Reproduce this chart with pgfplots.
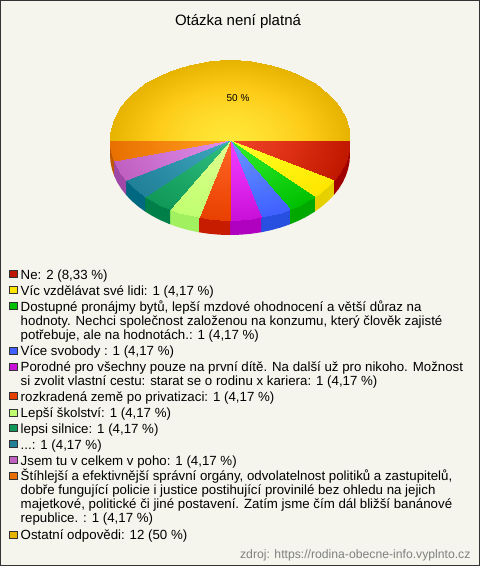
\documentclass[border=0pt]{standalone}
\usepackage{fontspec}
\usepackage{pgfplots}
\pgfplotsset{compat=1.18}
\setmainfont{Liberation Sans}
\definecolor{bg}{HTML}{F5F5EE}
\definecolor{A00000}{HTML}{A00000}\definecolor{E6D000}{HTML}{E6D000}\definecolor{00A800}{HTML}{00A800}\definecolor{2850E0}{HTML}{2850E0}\definecolor{B000C0}{HTML}{B000C0}\definecolor{C81C00}{HTML}{C81C00}\definecolor{A0F060}{HTML}{A0F060}\definecolor{008048}{HTML}{008048}\definecolor{006880}{HTML}{006880}\definecolor{A048A8}{HTML}{A048A8}\definecolor{C05800}{HTML}{C05800}
\definecolor{C01800}{HTML}{C01800}\definecolor{FFE600}{HTML}{FFE600}\definecolor{00C000}{HTML}{00C000}\definecolor{4060FF}{HTML}{4060FF}\definecolor{C810D8}{HTML}{C810D8}\definecolor{E84000}{HTML}{E84000}\definecolor{C0FF70}{HTML}{C0FF70}\definecolor{109858}{HTML}{109858}\definecolor{208098}{HTML}{208098}\definecolor{C060C0}{HTML}{C060C0}\definecolor{E87000}{HTML}{E87000}\definecolor{E6B400}{HTML}{E6B400}
\newcommand\topslice[3]{%
\addplot3[surf,shader=interp,mesh/rows=2,colormap={c}{#1},point meta=\thisrow{r},forget plot]
 table[row sep=\\,x expr={230+120*\thisrow{r}*cos(\thisrow{a})},y expr={140+80*\thisrow{r}*sin(\thisrow{a})},z expr=0] {#3};}
\newcommand\side[2]{%
\addplot[fill=#1,draw=none,forget plot] table[row sep=\\,x expr={230+120*cos(\thisrow{a})},y expr={140+80*sin(\thisrow{a})+\thisrow{d}}] {#2} -- cycle;}
\newcommand\leg[3]{\addplot[only marks,mark=square*,mark size=3.7bp,mark options={fill=#1,draw=black!80,line width=0.7bp},forget plot] coordinates {(#2,#3)};}
\newcommand\txt[2]{\node[anchor=base west,inner sep=0pt,font=\fontsize{13.28bp}{14bp}\selectfont,yshift=-0.7bp] at (axis cs:20.5,#1) {#2};}
\begin{document}
\begin{tikzpicture}
\begin{axis}[scale only axis,width=480bp,height=566bp,xmin=0,xmax=480,ymin=0,ymax=566,y dir=reverse,hide axis,clip=false,view={0}{90},point meta min=0,point meta max=1]
\addplot[fill=bg,draw=black!80,line width=1.5bp,forget plot] coordinates {(0.7,0.7)(479.3,0.7)(479.3,565.3)(0.7,565.3)} -- cycle;
% side walls
\side{A00000}{a d\\0 0\\5 0\\10 0\\15 0\\20 0\\25 0\\30 0\\30 15\\25 15\\20 15\\15 15\\10 15\\5 15\\0 15\\}
\side{E6D000}{a d\\30 0\\35 0\\40 0\\45 0\\45 15\\40 15\\35 15\\30 15\\}
\side{00A800}{a d\\45 0\\50 0\\55 0\\60 0\\60 15\\55 15\\50 15\\45 15\\}
\side{2850E0}{a d\\60 0\\65 0\\70 0\\75 0\\75 15\\70 15\\65 15\\60 15\\}
\side{B000C0}{a d\\75 0\\80 0\\85 0\\90 0\\90 15\\85 15\\80 15\\75 15\\}
\side{C81C00}{a d\\90 0\\95 0\\100 0\\105 0\\105 15\\100 15\\95 15\\90 15\\}
\side{A0F060}{a d\\105 0\\110 0\\115 0\\120 0\\120 15\\115 15\\110 15\\105 15\\}
\side{008048}{a d\\120 0\\125 0\\130 0\\135 0\\135 15\\130 15\\125 15\\120 15\\}
\side{006880}{a d\\135 0\\140 0\\145 0\\150 0\\150 15\\145 15\\140 15\\135 15\\}
\side{A048A8}{a d\\150 0\\155 0\\160 0\\165 0\\165 15\\160 15\\155 15\\150 15\\}
\side{C05800}{a d\\165 0\\170 0\\175 0\\180 0\\180 15\\175 15\\170 15\\165 15\\}
% top
\topslice{rgb255=(240,70,42) rgb255=(222,48,20) rgb255=(192,24,0)}{}{a r\\0 0\\5 0\\10 0\\15 0\\20 0\\25 0\\30 0\\0 1\\5 1\\10 1\\15 1\\20 1\\25 1\\30 1\\}
\topslice{rgb255=(255,255,48) rgb255=(255,245,16) rgb255=(255,230,0)}{}{a r\\30 0\\35 0\\40 0\\45 0\\30 1\\35 1\\40 1\\45 1\\}
\topslice{rgb255=(48,240,48) rgb255=(24,216,24) rgb255=(0,192,0)}{}{a r\\45 0\\50 0\\55 0\\60 0\\45 1\\50 1\\55 1\\60 1\\}
\topslice{rgb255=(110,150,255) rgb255=(84,124,255) rgb255=(64,96,255)}{}{a r\\60 0\\65 0\\70 0\\75 0\\60 1\\65 1\\70 1\\75 1\\}
\topslice{rgb255=(240,64,255) rgb255=(226,40,240) rgb255=(200,16,216)}{}{a r\\75 0\\80 0\\85 0\\90 0\\75 1\\80 1\\85 1\\90 1\\}
\topslice{rgb255=(255,104,40) rgb255=(245,84,20) rgb255=(232,64,0)}{}{a r\\90 0\\95 0\\100 0\\105 0\\90 1\\95 1\\100 1\\105 1\\}
\topslice{rgb255=(224,255,144) rgb255=(208,255,128) rgb255=(192,255,112)}{}{a r\\105 0\\110 0\\115 0\\120 0\\105 1\\110 1\\115 1\\120 1\\}
\topslice{rgb255=(48,192,128) rgb255=(32,172,108) rgb255=(16,152,88)}{}{a r\\120 0\\125 0\\130 0\\135 0\\120 1\\125 1\\130 1\\135 1\\}
\topslice{rgb255=(64,168,192) rgb255=(48,148,172) rgb255=(32,128,152)}{}{a r\\135 0\\140 0\\145 0\\150 0\\135 1\\140 1\\145 1\\150 1\\}
\topslice{rgb255=(224,144,232) rgb255=(208,120,216) rgb255=(192,96,192)}{}{a r\\150 0\\155 0\\160 0\\165 0\\150 1\\155 1\\160 1\\165 1\\}
\topslice{rgb255=(255,160,32) rgb255=(245,136,16) rgb255=(232,112,0)}{}{a r\\165 0\\170 0\\175 0\\180 0\\165 1\\170 1\\175 1\\180 1\\}
\topslice{rgb255=(255,232,56) rgb255=(255,220,44) rgb255=(252,202,22) rgb255=(230,180,0)}{}{a r\\180 0\\185 0\\190 0\\195 0\\200 0\\205 0\\210 0\\215 0\\220 0\\225 0\\230 0\\235 0\\240 0\\245 0\\250 0\\255 0\\260 0\\265 0\\270 0\\275 0\\280 0\\285 0\\290 0\\295 0\\300 0\\305 0\\310 0\\315 0\\320 0\\325 0\\330 0\\335 0\\340 0\\345 0\\350 0\\355 0\\360 0\\180 1\\185 1\\190 1\\195 1\\200 1\\205 1\\210 1\\215 1\\220 1\\225 1\\230 1\\235 1\\240 1\\245 1\\250 1\\255 1\\260 1\\265 1\\270 1\\275 1\\280 1\\285 1\\290 1\\295 1\\300 1\\305 1\\310 1\\315 1\\320 1\\325 1\\330 1\\335 1\\340 1\\345 1\\350 1\\355 1\\360 1\\}
% legend
\leg{C01800}{13.2}{274}\leg{FFE600}{13.2}{290}\leg{00C000}{13.2}{306}\leg{4060FF}{13.2}{351}\leg{C810D8}{13.2}{367}\leg{E84000}{13.2}{396}\leg{C0FF70}{13.2}{413}\leg{109858}{13.2}{428}\leg{208098}{13.2}{444}\leg{C060C0}{13.2}{460}\leg{E87000}{13.2}{476}\leg{E6B400}{13.2}{535}
\node[anchor=base,font=\fontsize{15bp}{16bp}\selectfont] at (axis cs:238,25) {Otázka není platná};
\node[anchor=base,font=\fontsize{10bp}{12bp}\selectfont] at (axis cs:238,101) {50 \%};
\txt{278.5}{Ne: 2 (8,33 \%)}
\txt{295}{Víc vzdělávat své lidi: 1 (4,17 \%)}
\txt{311}{Dostupné pronájmy bytů, lepší mzdové ohodnocení a větší důraz na}
\txt{325}{hodnoty. Nechci společnost založenou na konzumu, který člověk zajisté}
\txt{339}{potřebuje, ale na hodnotách.: 1 (4,17 \%)}
\txt{355}{Více svobody : 1 (4,17 \%)}
\txt{371}{Porodné pro všechny pouze na první dítě. Na další už pro nikoho. Možnost}
\txt{385}{si zvolit vlastní cestu: starat se o rodinu x kariera: 1 (4,17 \%)}
\txt{401}{rozkradená země po privatizaci: 1 (4,17 \%)}
\txt{417}{Lepší školství: 1 (4,17 \%)}
\txt{433}{lepsi silnice: 1 (4,17 \%)}
\txt{449}{...: 1 (4,17 \%)}
\txt{465}{Jsem tu v celkem v poho: 1 (4,17 \%)}
\txt{480}{Štíhlejší a efektivnější správní orgány, odvolatelnost politiků a zastupitelů,}
\txt{494}{dobře fungující policie i justice postihující provinilé bez ohledu na jejich}
\txt{508}{majetkové, politické či jiné postavení. Zatím jsme čím dál bližší banánové}
\txt{522}{republice. : 1 (4,17 \%)}
\txt{539}{Ostatní odpovědi: 12 (50 \%)}
\node[anchor=base east,text=black!50,font=\fontsize{12.2bp}{14bp}\selectfont] at (axis cs:474,559) {zdroj: https://rodina-obecne-info.vyplnto.cz};
\end{axis}
\end{tikzpicture}
\end{document}
